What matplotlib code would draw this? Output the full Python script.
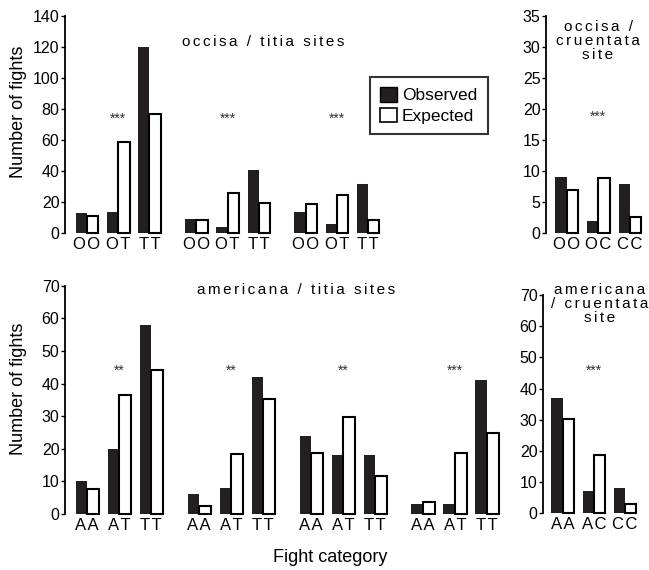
import numpy as np
import matplotlib.pyplot as plt
from matplotlib.patches import Patch

plt.rcParams['font.family'] = ['Liberation Sans', 'DejaVu Sans']

# occisa / titia sites (three sites)
oc_ti_cats = ['OO', 'OT', 'TT']
oc_ti_obs = [[13, 14, 120], [9, 4, 41], [14, 6, 32]]
oc_ti_exp = [[11.3, 58.7, 77], [8.6, 25.8, 19.4], [18.7, 24.7, 8.4]]
oc_ti_sig = ['***', '***', '***']

# occisa / cruentata site
oc_cr_cats = ['OO', 'OC', 'CC']
oc_cr_obs = [9, 2, 8]
oc_cr_exp = [7.0, 8.9, 2.7]
oc_cr_sig = ['***']

# americana / titia sites (four sites)
am_ti_cats = ['AA', 'AT', 'TT']
am_ti_obs = [[10, 20, 58], [6, 8, 42], [24, 18, 18], [3, 3, 41]]
am_ti_exp = [[7.7, 36.5, 44], [2.5, 18.3, 35.3], [18.8, 29.7, 11.7], [3.7, 18.8, 24.8]]
am_ti_sig = ['**', '**', '**', '***']

# americana / cruentata site
am_cr_cats = ['AA', 'AC', 'CC']
am_cr_obs = [37, 7, 8]
am_cr_exp = [30.2, 18.8, 3.0]
am_cr_sig = ['***']

DARK = '#231f20'
HS = '\u200a'  # hair space, the original text is letter-spaced


def spaced(s, sep=HS):
    return '\n'.join(sep.join(line) for line in s.split('\n'))


def draw_panel(ax, obs_groups, exp_groups, cats, sig, ymax, ystep, star_y, xlim):
    w = 0.36
    pos, labels = [], []
    for g, (o, e) in enumerate(zip(obs_groups, exp_groups)):
        x = g * 3.5 + np.arange(len(o))
        ax.bar(x - w / 2, o, w, color=DARK, linewidth=0, clip_on=False, zorder=2)
        ax.bar(x + w / 2, e, w, color='white', edgecolor='black', linewidth=1.5,
               clip_on=False, zorder=3)
        ax.text(x[1], star_y, sig[g], ha='center', va='baseline', fontsize=10,
                color='#333333')
        pos += list(x)
        labels += [spaced(c) for c in cats]

    ax.set_xlim(*xlim)
    ax.set_ylim(0, ymax)
    ax.set_yticks(np.arange(0, ymax + 1, ystep))
    ax.set_xticks(pos)
    ax.set_xticklabels(labels, fontsize=12)
    ax.tick_params(axis='x', length=0, pad=3)
    ax.tick_params(axis='y', length=3, width=1, direction='out', labelsize=11.5, pad=1)
    for s in ['top', 'right', 'bottom']:
        ax.spines[s].set_visible(False)
    ax.spines['left'].set_linewidth(1.3)
    ax.patch.set_alpha(0)


W, H = 649, 570
fig = plt.figure(figsize=(W / 100, H / 100), dpi=100)


def px_axes(x0, x1, ytop, ybot):
    return fig.add_axes([x0 / W, 1 - ybot / H, (x1 - x0) / W, (ybot - ytop) / H])


ax1 = px_axes(65, 390, 16, 233.3)
draw_panel(ax1, oc_ti_obs, oc_ti_exp, oc_ti_cats, oc_ti_sig, 140, 20, 71.5,
           (-0.705, 9.7))

ax2 = px_axes(546, 647.5, 16, 233.3)
draw_panel(ax2, [oc_cr_obs], [oc_cr_exp], oc_cr_cats, oc_cr_sig, 35, 5, 18.1,
           (-0.65, 2.55))

ax3 = px_axes(65, 503, 285.7, 514)
draw_panel(ax3, am_ti_obs, am_ti_exp, am_ti_cats, am_ti_sig, 70, 10, 42.7,
           (-0.69, 13.0))

ax4 = px_axes(543, 643.8, 295, 513.3)
draw_panel(ax4, [am_cr_obs], [am_cr_exp], am_cr_cats, am_cr_sig, 70, 10, 44.4,
           (-0.63, 2.6))

# panel titles
TW = HS * 2
fig.text(263 / W, 1 - 42 / H, spaced('occisa / titia sites', TW), ha='center',
         va='center', fontsize=11)
fig.text(598 / W, 1 - 20 / H, spaced('occisa /\ncruentata\nsite', TW), ha='center',
         va='top', fontsize=11, linespacing=0.98)
fig.text(296 / W, 1 - 290 / H, spaced('americana / titia sites', TW), ha='center',
         va='center', fontsize=11)
fig.text(600 / W, 1 - 283 / H, spaced('americana\n/ cruentata\nsite', TW), ha='center',
         va='top', fontsize=11, linespacing=0.98)

# axis labels
fig.text(19 / W, 1 - 112 / H, 'Number of fights', rotation=90, ha='center',
         va='center', fontsize=13)
fig.text(19 / W, 1 - 389 / H, 'Number of fights', rotation=90, ha='center',
         va='center', fontsize=13)
fig.text(330 / W, 1 - 558 / H, 'Fight category', ha='center', va='center',
         fontsize=13)

handles = [Patch(facecolor=DARK, edgecolor='black', linewidth=1),
           Patch(facecolor='white', edgecolor='black', linewidth=1.2)]
leg = fig.legend(handles, ['Observed', 'Expected'], loc='upper left',
                 bbox_to_anchor=(370 / W, 1 - 76.7 / H), fontsize=12.5,
                 frameon=True, fancybox=False, handlelength=0.95,
                 handleheight=0.9, handletextpad=0.3, labelspacing=0.25,
                 borderpad=0.6, borderaxespad=0)
leg.get_frame().set_edgecolor('black')
leg.get_frame().set_linewidth(1.5)

fig.savefig('out.png', dpi=100)
